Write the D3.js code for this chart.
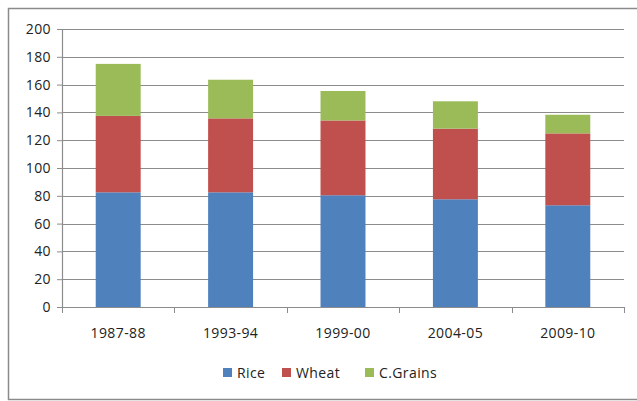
<!DOCTYPE html>
<html>
<head>
<meta charset="utf-8">
<script src="https://cdn.jsdelivr.net/npm/d3@7"></script>
<style>
  body { margin: 0; background: #fff; }
  svg text { font-family: "Open Sans", Lato, sans-serif; fill: #222; letter-spacing: 0.4px; }
</style>
</head>
<body>
<div id="chart"></div>
<script>
var years = ["1987-88", "1993-94", "1999-00", "2004-05", "2009-10"]
var rice = [82.5, 82.5, 80.4, 77.5, 73.2]
var wheat = [55, 53.2, 53.8, 50.8, 51.7]
var cgrains = [37.4, 27.8, 21.2, 19.7, 13.4]
var yTicks = [0, 20, 40, 60, 80, 100, 120, 140, 160, 180, 200]
var seriesNames = ["Rice", "Wheat", "C.Grains"]
var colors = ["#4F81BD", "#C0504D", "#9BBB59"]

var W = 637, H = 401
var margin = { top: 29, right: 13, bottom: 94, left: 62 },
  width = W - margin.left - margin.right,
  height = H - margin.top - margin.bottom

var svg = d3.select("#chart").append("svg")
  .attr("width", W)
  .attr("height", H)

// outer frame
svg.append("rect")
  .attr("x", 8.5).attr("y", 8.5)
  .attr("width", W).attr("height", 391)
  .attr("fill", "none")
  .attr("stroke", "#8a8a8a")
  .attr("stroke-width", 1.5)

var g = svg.append("g")
  .attr("transform", "translate(" + margin.left + "," + margin.top + ")")

var x = d3.scaleBand().domain(years).range([0, width]).paddingInner(0.6).paddingOuter(0.3)
var y = d3.scaleLinear().domain([0, 200]).range([height, 0])

var table = years.map(function (d, i) {
  return { year: d, Rice: rice[i], Wheat: wheat[i], "C.Grains": cgrains[i] }
})
var stacked = d3.stack().keys(seriesNames)(table)

// gridlines
g.append("g").selectAll("line").data(yTicks.slice(1)).enter().append("line")
  .attr("x1", 0).attr("x2", width)
  .attr("y1", function (d) { return Math.round(y(d)) + 0.5 })
  .attr("y2", function (d) { return Math.round(y(d)) + 0.5 })
  .attr("stroke", "#8c8c8c")
  .attr("stroke-width", 1.2)

// bars
g.append("g").selectAll("g").data(stacked).enter().append("g")
  .attr("fill", function (d, i) { return colors[i] })
  .selectAll("rect").data(function (d) { return d }).enter().append("rect")
  .attr("x", function (d) { return x(d.data.year) })
  .attr("y", function (d) { return y(d[1]) })
  .attr("width", x.bandwidth())
  .attr("height", function (d) { return y(d[0]) - y(d[1]) })

// y axis
var yAxis = d3.axisLeft(y).tickValues(yTicks).tickSize(5).tickPadding(6)
g.append("g")
  .attr("class", "axis axis--y")
  .call(yAxis)
  .call(function (a) {
    a.select(".domain").attr("stroke", "#8c8c8c").attr("stroke-width", 1.2)
    a.selectAll(".tick line").attr("stroke", "#8c8c8c")
    a.selectAll(".tick text").style("font-size", "14px").style("font-family", null)
  })

// x axis with ticks at category boundaries
var xAxisG = g.append("g")
  .attr("transform", "translate(0," + height + ")")
xAxisG.append("line")
  .attr("x1", 0).attr("x2", width)
  .attr("y1", 0.5).attr("y2", 0.5)
  .attr("stroke", "#8c8c8c").attr("stroke-width", 1.2)
xAxisG.selectAll(".bnd").data(d3.range(years.length + 1)).enter().append("line")
  .attr("x1", function (i) { return Math.round(i * width / years.length) + 0.5 })
  .attr("x2", function (i) { return Math.round(i * width / years.length) + 0.5 })
  .attr("y1", 0).attr("y2", 6)
  .attr("stroke", "#8c8c8c")
xAxisG.selectAll("text").data(years).enter().append("text")
  .attr("x", function (d) { return x(d) + x.bandwidth() / 2 })
  .attr("y", 31)
  .attr("text-anchor", "middle")
  .style("font-size", "14px")
  .text(function (d) { return d })

// legend
var legendX = [223, 282, 365]
var legend = svg.append("g").selectAll("g").data(seriesNames).enter().append("g")
  .attr("transform", function (d, i) { return "translate(" + legendX[i] + ",368)" })
legend.append("rect")
  .attr("width", 9).attr("height", 9)
  .attr("fill", function (d, i) { return colors[i] })
legend.append("text")
  .attr("x", 14).attr("y", 10)
  .style("font-size", "14px")
  .text(function (d) { return d })
</script>
</body>
</html>
